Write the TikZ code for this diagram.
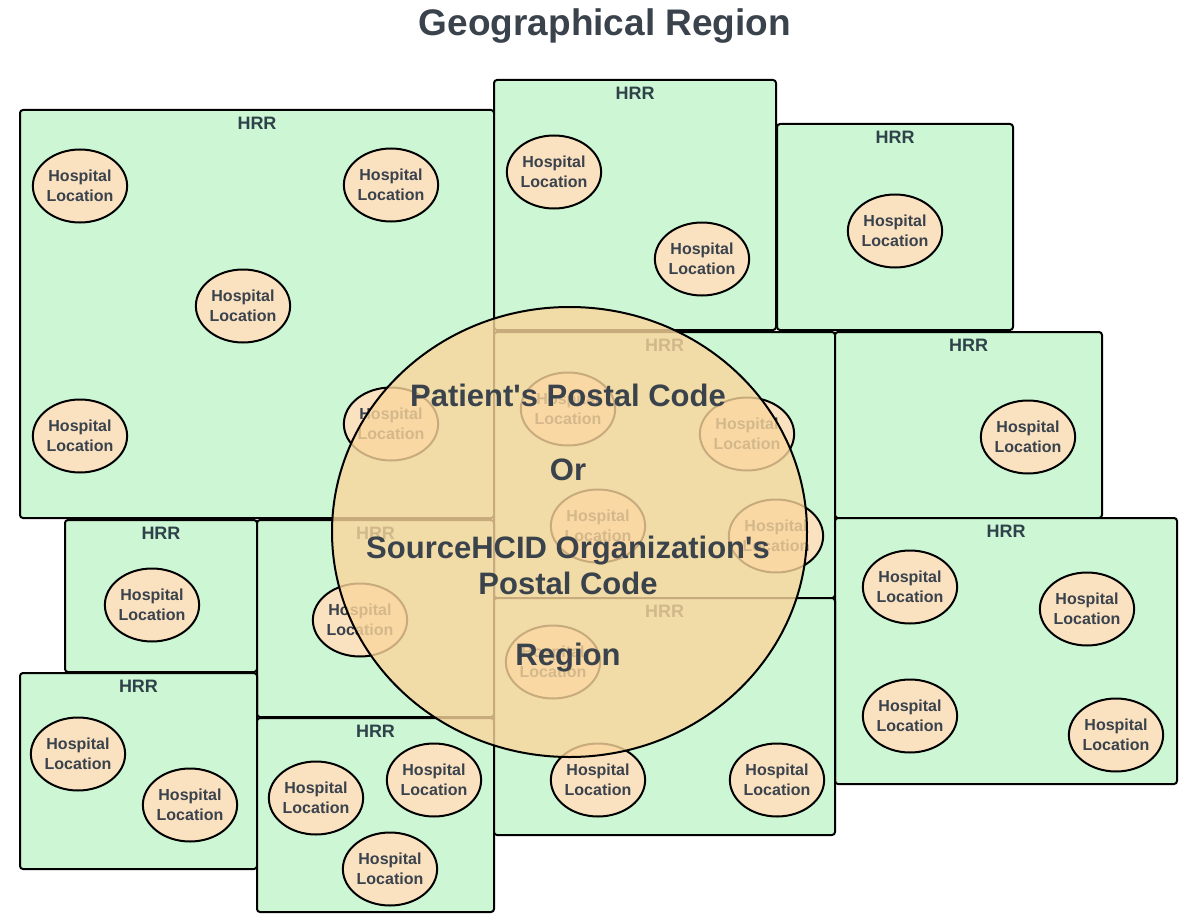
\documentclass[tikz,border=0pt]{standalone}
\usepackage{fontspec}
\setmainfont{Liberation Sans}
\usetikzlibrary{shapes.geometric}
\definecolor{boxgreen}{RGB}{205,247,212}
\definecolor{hospfill}{RGB}{250,226,193}
\definecolor{regionfill}{RGB}{250,214,156}
\definecolor{txtdark}{RGB}{58,66,76}
\definecolor{hrrtxt}{RGB}{47,66,74}
\tikzset{
  hrr/.style={draw=black, line width=2pt, fill=boxgreen, rounded corners=3pt},
  hrrlabel/.style={text=hrrtxt, font=\bfseries\fontsize{18}{20}\selectfont, inner sep=0pt},
  hosp/.style={ellipse, draw=black, line width=2pt, fill=hospfill, minimum width=88pt, minimum height=73pt, inner sep=0pt, align=center, text=txtdark, font=\bfseries\fontsize{16}{19.5}\selectfont},
  region/.style={ellipse, draw=black, line width=2pt, fill=regionfill, fill opacity=0.8, draw opacity=1, inner sep=0pt},
  bigtxt/.style={text=txtdark, font=\bfseries\fontsize{31}{36}\selectfont, align=center, inner sep=0pt},
}
\newcommand\hrrbox[5]{%
  \draw[hrr] (#2,#3) rectangle (#4,#5);
  \node[hrrlabel] (#1) at ({(#2+#4)/2},{#3+13}) {HRR};}
\begin{document}
\begin{tikzpicture}[x=1pt,y=-1pt]
\useasboundingbox (0,0) rectangle (1183,915);
\node[text=txtdark, font=\bfseries\fontsize{37}{40}\selectfont, inner sep=0pt] (title) at (605,26) {Geographical Region};
% HRR boxes
\hrrbox{hA}{20}{110}{494}{518}
\hrrbox{hB}{494}{80}{776}{330}
\hrrbox{hC}{777}{124}{1013}{330}
\hrrbox{hD}{494}{332}{835}{598}
\hrrbox{hE}{835}{332}{1102}{518}
\hrrbox{hF}{835}{518}{1177}{784}
\hrrbox{hG}{65}{520}{257}{672}
\hrrbox{hH}{257}{520}{494}{717}
\hrrbox{hI}{20}{673}{257}{869}
\hrrbox{hJ}{257}{718}{494}{912}
\hrrbox{hK}{494}{598}{835}{835}
% hospitals
\node[hosp] (a1) at (80,186) {Hospital\\Location};
\node[hosp] (a2) at (391,185) {Hospital\\Location};
\node[hosp] (a3) at (243,306) {Hospital\\Location};
\node[hosp] (a4) at (80,436) {Hospital\\Location};
\node[hosp] (a5) at (391,424) {Hospital\\Location};
\node[hosp] (b1) at (554,172) {Hospital\\Location};
\node[hosp] (b2) at (702,259) {Hospital\\Location};
\node[hosp] (c1) at (895,231) {Hospital\\Location};
\node[hosp] (d1) at (568,409) {Hospital\\Location};
\node[hosp] (d2) at (747,434) {Hospital\\Location};
\node[hosp] (d3) at (598,526) {Hospital\\Location};
\node[hosp] (d4) at (776,536) {Hospital\\Location};
\node[hosp] (e1) at (1028,437) {Hospital\\Location};
\node[hosp] (f1) at (910,587) {Hospital\\Location};
\node[hosp] (f2) at (1087,609) {Hospital\\Location};
\node[hosp] (f3) at (910,716) {Hospital\\Location};
\node[hosp] (f4) at (1116,735) {Hospital\\Location};
\node[hosp] (g1) at (152,605) {Hospital\\Location};
\node[hosp] (h1) at (360,620) {Hospital\\Location};
\node[hosp] (i1) at (78,754) {Hospital\\Location};
\node[hosp] (i2) at (190,805) {Hospital\\Location};
\node[hosp] (j1) at (316,798) {Hospital\\Location};
\node[hosp] (j2) at (434,780) {Hospital\\Location};
\node[hosp] (j3) at (390,869) {Hospital\\Location};
\node[hosp] (k1) at (553,662) {Hospital\\Location};
\node[hosp] (k2) at (598,780) {Hospital\\Location};
\node[hosp] (k3) at (777,780) {Hospital\\Location};
% region circle
\node[region, minimum width=475pt, minimum height=450pt] (reg) at (569.5,532) {};
\node[bigtxt] (t1) at (568,395) {Patient\textquotesingle s Postal Code};
\node[bigtxt] (t2) at (568,470) {Or};
\node[bigtxt] (t3) at (568,565) {SourceHCID Organization\textquotesingle s\\Postal Code};
\node[bigtxt] (t4) at (568,658) {Region};
\end{tikzpicture}
\end{document}
